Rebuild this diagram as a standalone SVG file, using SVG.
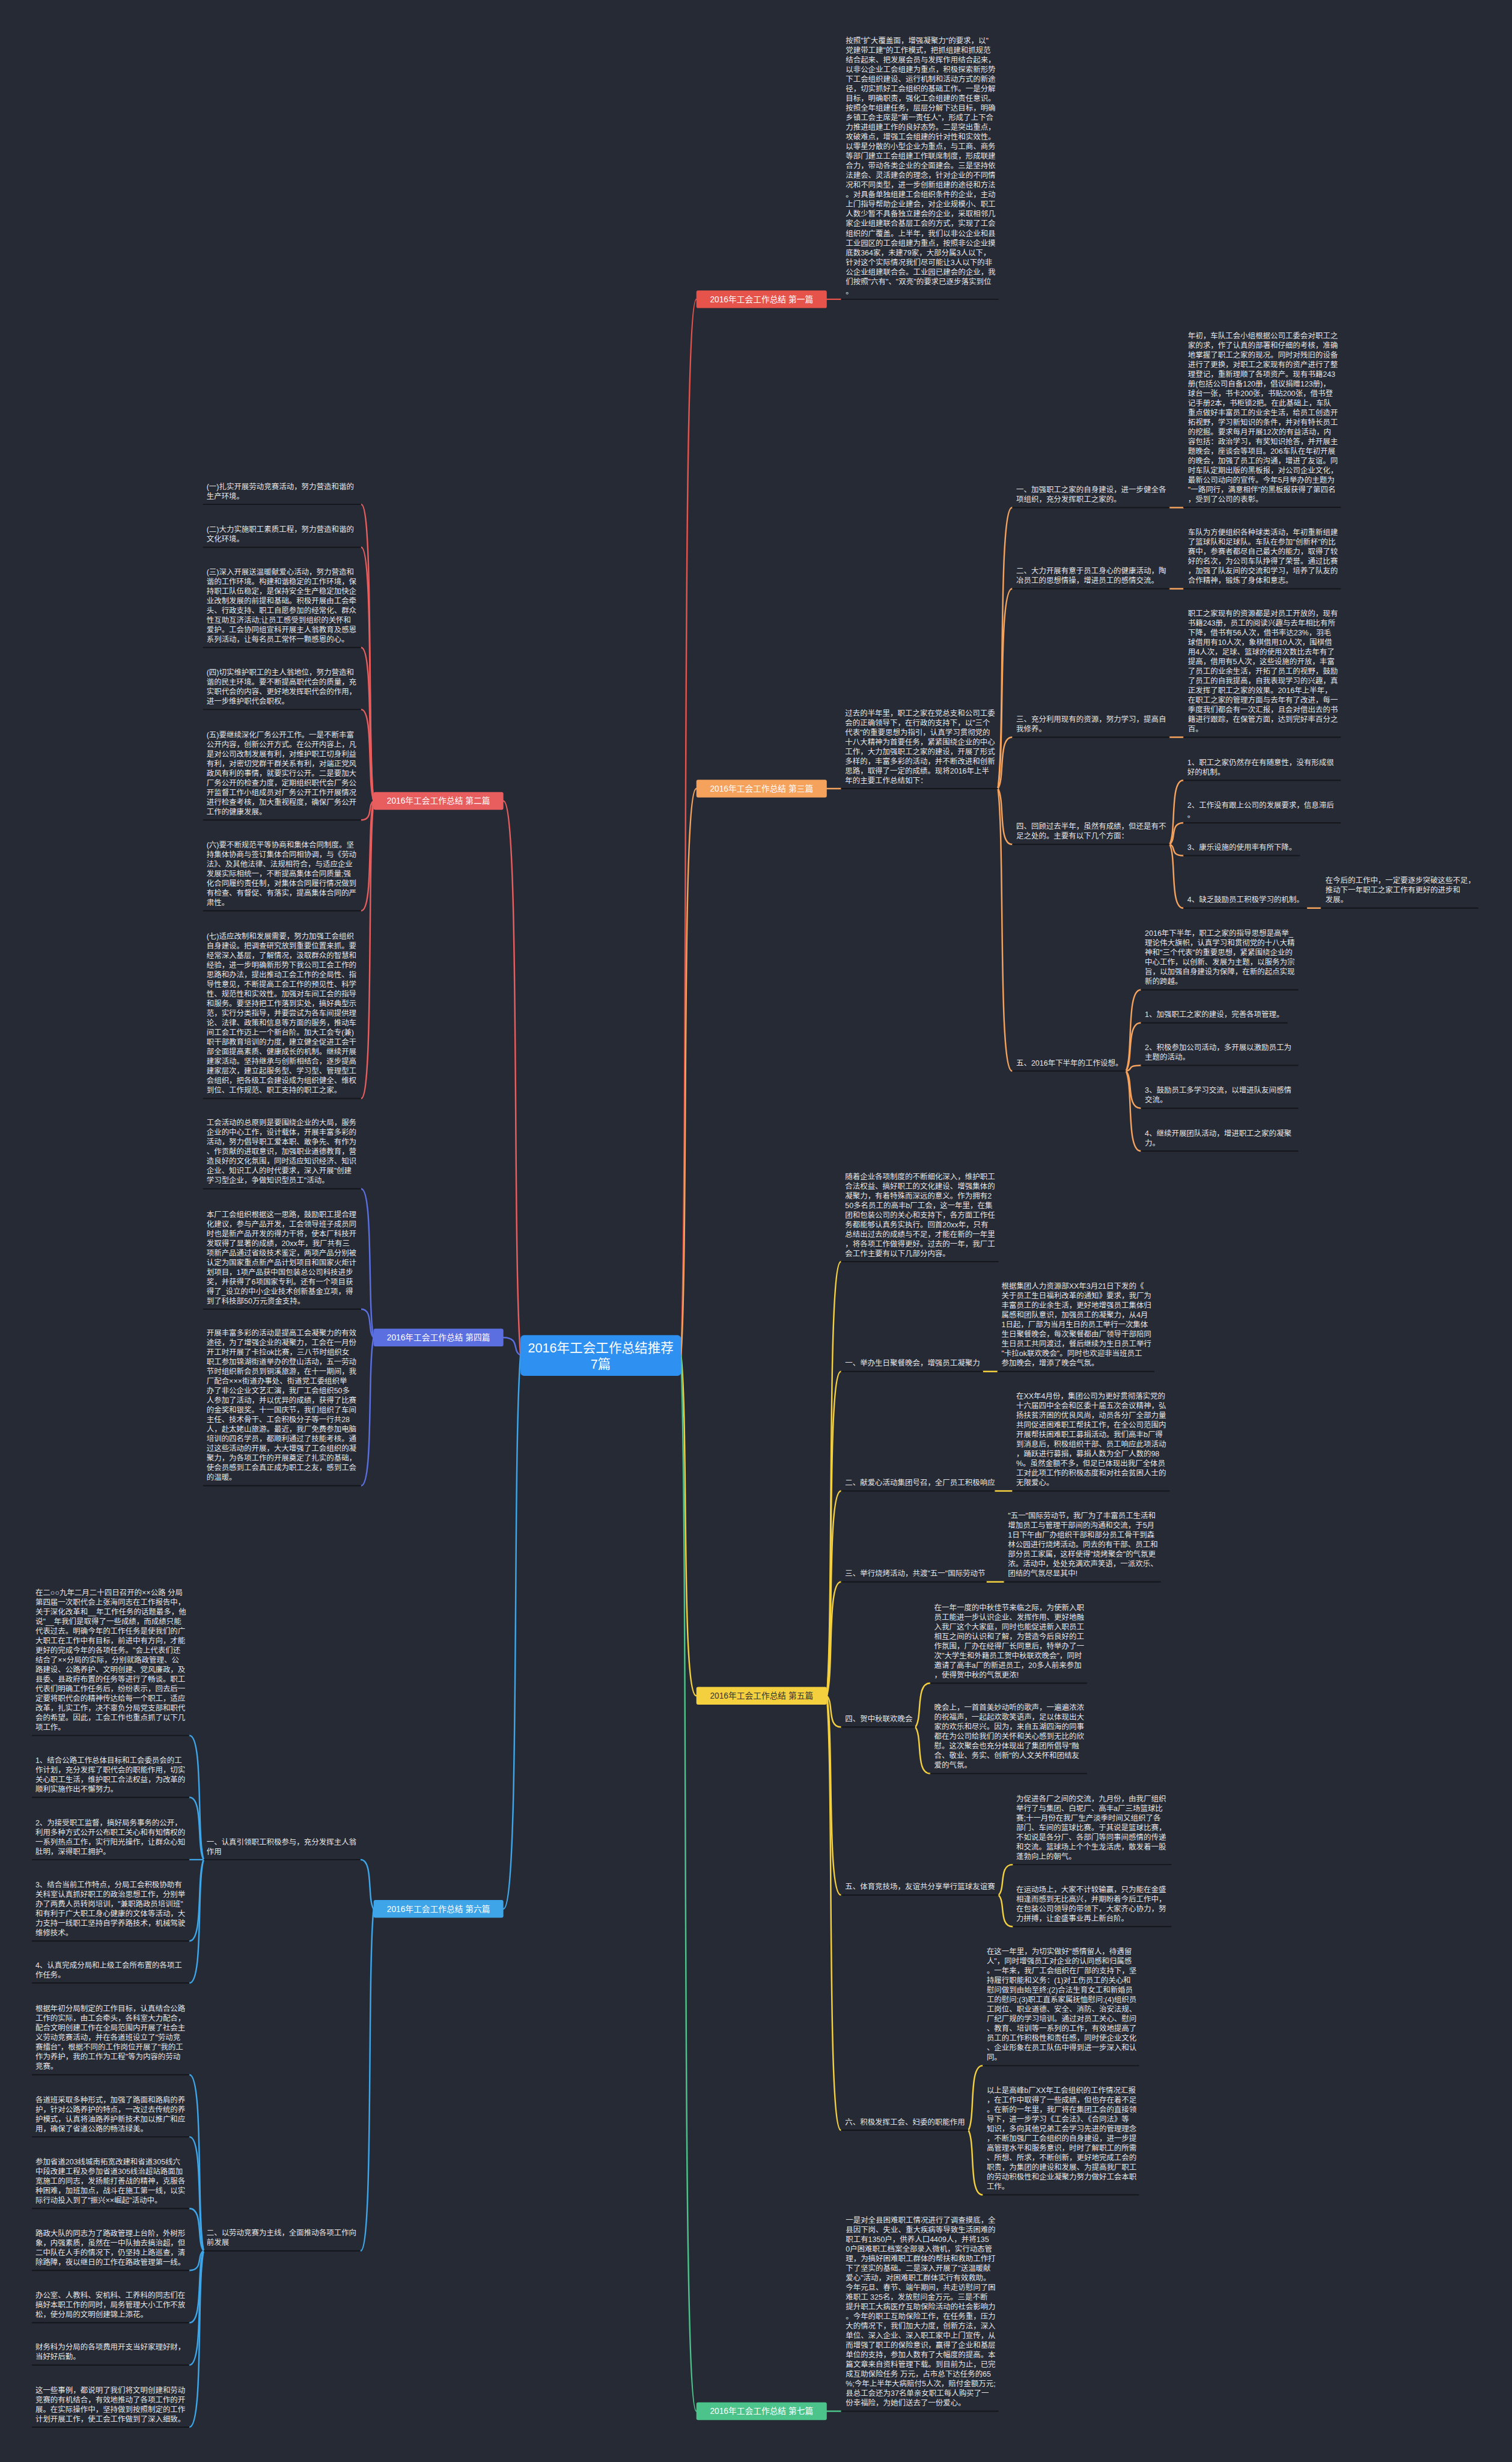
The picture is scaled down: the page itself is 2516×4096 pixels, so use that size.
<svg xmlns="http://www.w3.org/2000/svg" width="2516" height="4096" viewBox="0 0 2516 4096">
<style>
.t{font-family:"Liberation Sans","Noto Sans CJK SC",sans-serif;font-size:12.7px;fill:#e6e6e6}
.u{stroke:#14161b;stroke-width:2}
.c{fill:none;stroke-width:2.5;stroke-linecap:round}
.bt{font-family:"Liberation Sans","Noto Sans CJK SC",sans-serif;font-size:14px;text-anchor:middle}
.ct{font-family:"Liberation Sans","Noto Sans CJK SC",sans-serif;font-size:22px;text-anchor:middle;fill:#ffffff}
.red{stroke:#e5534b}.red2{stroke:#e85d5d}.org{stroke:#f5a25d}.yel{stroke:#f4d03f}.grn{stroke:#4cc38a}.blu{stroke:#5b6fe0}.cya{stroke:#3ea6e8}
</style>
<rect x="0" y="0" width="2516" height="4096" fill="#252a35"/>
<g transform="scale(0.982)">
<g id="connectors">
<path class="c red" d="M1154 2296 C1167 1938 1154 507 1180 507"/>
<path class="c org" d="M1154 2296 C1167 2104 1154 1336 1180 1336"/>
<path class="c yel" d="M1154 2296 C1167 2411 1154 2873 1180 2873"/>
<path class="c grn" d="M1154 2296 C1167 2654 1154 4085 1180 4085"/>
<path class="c red2" d="M882 2296 C867.5 2108 882 1357 853 1357"/>
<path class="c blu" d="M882 2296 C867.5 2290 882 2266 853 2266"/>
<path class="c cya" d="M882 2296 C867.5 2484 882 3234 853 3234"/>
<path class="c red" d="M1401 507 L1425 507"/>
<path class="c org" d="M1401 1336 L1425 1336"/>
<path class="c org" d="M1691 1336 C1703 1241 1691 860 1715 860"/>
<path class="c org" d="M1691 1336 C1703 1268 1691 997.5 1715 997.5"/>
<path class="c org" d="M1691 1336 C1703 1319 1691 1249 1715 1249"/>
<path class="c org" d="M1691 1336 C1703 1355 1691 1430.5 1715 1430.5"/>
<path class="c org" d="M1691 1336 C1703 1432 1691 1814.5 1715 1814.5"/>
<path class="c org" d="M1982 860 L2005 860"/>
<path class="c org" d="M1982 997.5 L2005 997.5"/>
<path class="c org" d="M1982 1249 L2005 1249"/>
<path class="c org" d="M1982 1430.5 C1993.5 1409 1982 1322 2005 1322"/>
<path class="c org" d="M1982 1430.5 C1993.5 1423 1982 1394 2005 1394"/>
<path class="c org" d="M1982 1430.5 C1993.5 1434 1982 1449.5 2005 1449.5"/>
<path class="c org" d="M1982 1430.5 C1993.5 1452 1982 1538.5 2005 1538.5"/>
<path class="c org" d="M2215 1538.5 L2238 1538.5"/>
<path class="c org" d="M1908 1814.5 C1920.5 1787 1908 1677 1933 1677"/>
<path class="c org" d="M1908 1814.5 C1920.5 1798 1908 1733 1933 1733"/>
<path class="c org" d="M1908 1814.5 C1920.5 1813 1908 1805 1933 1805"/>
<path class="c org" d="M1908 1814.5 C1920.5 1827 1908 1877.5 1933 1877.5"/>
<path class="c org" d="M1908 1814.5 C1920.5 1842 1908 1950 1933 1950"/>
<path class="c yel" d="M1401 2873 C1413 2726 1401 2137.5 1425 2137.5"/>
<path class="c yel" d="M1401 2873 C1413 2763 1401 2323.5 1425 2323.5"/>
<path class="c yel" d="M1401 2873 C1413 2804 1401 2526 1425 2526"/>
<path class="c yel" d="M1401 2873 C1413 2834 1401 2680 1425 2680"/>
<path class="c yel" d="M1401 2873 C1413 2884 1401 2926 1425 2926"/>
<path class="c yel" d="M1401 2873 C1413 2940 1401 3210.6 1425 3210.6"/>
<path class="c yel" d="M1401 2873 C1413 3020 1401 3609 1425 3609"/>
<path class="c yel" d="M1666 2323.5 L1690 2323.5"/>
<path class="c yel" d="M1686 2526 L1715 2526"/>
<path class="c yel" d="M1672 2680 L1701 2680"/>
<path class="c yel" d="M1551 2926 C1563.5 2911 1551 2851.6 1576 2851.6"/>
<path class="c yel" d="M1551 2926 C1563.5 2942 1551 3004.7 1576 3004.7"/>
<path class="c yel" d="M1692 3210.6 C1704 3200 1692 3159 1716 3159"/>
<path class="c yel" d="M1692 3210.6 C1704 3221 1692 3264 1716 3264"/>
<path class="c yel" d="M1641 3609 C1653 3587 1641 3499.6 1665 3499.6"/>
<path class="c yel" d="M1641 3609 C1653 3631 1641 3718.5 1665 3718.5"/>
<path class="c grn" d="M1401 4085 L1425 4085"/>
<path class="c red2" d="M633 1357 C622.5 1256.5 633 854.5 612 854.5"/>
<path class="c red2" d="M633 1357 C622.5 1271 633 927.2 612 927.2"/>
<path class="c red2" d="M633 1357 C622.5 1305 633 1097 612 1097"/>
<path class="c red2" d="M633 1357 C622.5 1326 633 1202 612 1202"/>
<path class="c red2" d="M633 1357 C622.5 1363.5 633 1389.3 612 1389.3"/>
<path class="c red2" d="M633 1357 C622.5 1394 633 1543 612 1543"/>
<path class="c red2" d="M633 1357 C622.5 1458 633 1861 612 1861"/>
<path class="c blu" d="M633 2266 C622.5 2215.6 633 2014 612 2014"/>
<path class="c blu" d="M633 2266 C622.5 2256.4 633 2218 612 2218"/>
<path class="c blu" d="M633 2266 C622.5 2316 633 2517 612 2517"/>
<path class="c cya" d="M633 3234 C622 3217 633 3150.6 611 3150.6"/>
<path class="c cya" d="M633 3234 C622 3350 633 3813.3 611 3813.3"/>
<path class="c cya" d="M345 3150.6 C333 3108.5 345 2940.3 321 2940.3"/>
<path class="c cya" d="M345 3150.6 C333 3129.5 345 3045 321 3045"/>
<path class="c cya" d="M345 3150.6 L321 3150.6"/>
<path class="c cya" d="M345 3150.6 C333 3178 345 3288.4 321 3288.4"/>
<path class="c cya" d="M345 3150.6 C333 3192 345 3359.5 321 3359.5"/>
<path class="c cya" d="M345 3813.3 C333 3753.6 345 3515 321 3515"/>
<path class="c cya" d="M345 3813.3 C333 3774.7 345 3620.3 321 3620.3"/>
<path class="c cya" d="M345 3813.3 C333 3799 345 3741.6 321 3741.6"/>
<path class="c cya" d="M345 3813.3 C333 3820 345 3846.4 321 3846.4"/>
<path class="c cya" d="M345 3813.3 C333 3837.7 345 3935.1 321 3935.1"/>
<path class="c cya" d="M345 3813.3 C333 3852 345 4006.8 321 4006.8"/>
<path class="c cya" d="M345 3813.3 C333 3873 345 4112 321 4112"/>
</g>

<g id="root">
<rect x="882" y="2262" width="272" height="69" rx="6" fill="#2e90f0"/>
<text class="ct" x="1018" y="2291">2016年工会工作总结推荐</text>
<text class="ct" x="1018" y="2319">7篇</text>
</g>

<g id="b1"><rect x="1180" y="492" width="221" height="30" rx="3" fill="#e5534b"/><text class="bt" x="1290.5" y="512" fill="#ffffff">2016年工会工作总结 第一篇</text></g>
<g id="b3"><rect x="1180" y="1321" width="221" height="30" rx="3" fill="#f5a25d"/><text class="bt" x="1290.5" y="1341" fill="#ffffff">2016年工会工作总结 第三篇</text></g>
<g id="b5"><rect x="1180" y="2858" width="221" height="30" rx="3" fill="#f4d03f"/><text class="bt" x="1290.5" y="2878" fill="#333333">2016年工会工作总结 第五篇</text></g>
<g id="b7"><rect x="1180" y="4070" width="221" height="30" rx="3" fill="#4cc38a"/><text class="bt" x="1290.5" y="4090" fill="#ffffff">2016年工会工作总结 第七篇</text></g>
<g id="b2"><rect x="633" y="1342" width="220" height="30" rx="3" fill="#e85d5d"/><text class="bt" x="743" y="1362" fill="#ffffff">2016年工会工作总结 第二篇</text></g>
<g id="b4"><rect x="633" y="2251" width="220" height="30" rx="3" fill="#5b6fe0"/><text class="bt" x="743" y="2271" fill="#ffffff">2016年工会工作总结 第四篇</text></g>
<g id="b6"><rect x="633" y="3219" width="220" height="30" rx="3" fill="#3ea6e8"/><text class="bt" x="743" y="3239" fill="#ffffff">2016年工会工作总结 第六篇</text></g>

<g id="p1-text">
<text class="t" x="1433" y="73.7"><tspan x="1433">按照"扩大覆盖面，增强凝聚力"的要求，以"</tspan><tspan x="1433" dy="16.3">党建带工建"的工作模式，把抓组建和抓规范</tspan><tspan x="1433" dy="16.3">结合起来、把发展会员与发挥作用结合起来，</tspan><tspan x="1433" dy="16.3">以非公企业工会组建为重点，积极探索新形势</tspan><tspan x="1433" dy="16.3">下工会组织建设、运行机制和活动方式的新途</tspan><tspan x="1433" dy="16.3">径，切实抓好工会组织的基础工作。一是分解</tspan><tspan x="1433" dy="16.3">目标，明确职责，强化工会组建的责任意识。</tspan><tspan x="1433" dy="16.3">按照全年组建任务，层层分解下达目标，明确</tspan><tspan x="1433" dy="16.3">乡镇工会主席是"第一责任人"，形成了上下合</tspan><tspan x="1433" dy="16.3">力推进组建工作的良好态势。二是突出重点，</tspan><tspan x="1433" dy="16.3">攻破难点，增强工会组建的针对性和实效性。</tspan><tspan x="1433" dy="16.3">以零星分散的小型企业为重点，与工商、商务</tspan><tspan x="1433" dy="16.3">等部门建立工会组建工作联席制度，形成联建</tspan><tspan x="1433" dy="16.3">合力，带动各类企业的全面建会。三是坚持依</tspan><tspan x="1433" dy="16.3">法建会、灵活建会的理念，针对企业的不同情</tspan><tspan x="1433" dy="16.3">况和不同类型，进一步创新组建的途径和方法</tspan><tspan x="1433" dy="16.3">。对具备单独组建工会组织条件的企业，主动</tspan><tspan x="1433" dy="16.3">上门指导帮助企业建会，对企业规模小、职工</tspan><tspan x="1433" dy="16.3">人数少暂不具备独立建会的企业，采取相邻几</tspan><tspan x="1433" dy="16.3">家企业组建联合基层工会的方式，实现了工会</tspan><tspan x="1433" dy="16.3">组织的广覆盖。上半年，我们以非公企业和县</tspan><tspan x="1433" dy="16.3">工业园区的工会组建为重点，按照非公企业摸</tspan><tspan x="1433" dy="16.3">底数364家，未建79家，大部分属3人以下，</tspan><tspan x="1433" dy="16.3">针对这个实际情况我们尽可能让3人以下的非</tspan><tspan x="1433" dy="16.3">公企业组建联合会。工业园已建会的企业，我</tspan><tspan x="1433" dy="16.3">们按照"六有"、"双亮"的要求已逐步落实到位</tspan><tspan x="1433" dy="16.3">。</tspan></text>
<line class="u" x1="1425" y1="507" x2="1692" y2="507"/>
</g>

<g id="p3-intro">
<text class="t" x="1432" y="1212.4"><tspan x="1432">过去的半年里，职工之家在党总支和公司工委</tspan><tspan x="1432" dy="16.3">会的正确领导下，在行政的支持下，以"三个</tspan><tspan x="1432" dy="16.3">代表"的重要思想为指引，认真学习贯彻党的</tspan><tspan x="1432" dy="16.3">十八大精神为首要任务，紧紧围绕企业的中心</tspan><tspan x="1432" dy="16.3">工作，大力加强职工之家的建设，开展了形式</tspan><tspan x="1432" dy="16.3">多样的，丰富多彩的活动，并不断改进和创新</tspan><tspan x="1432" dy="16.3">思路，取得了一定的成绩。现将2016年上半</tspan><tspan x="1432" dy="16.3">年的主要工作总结如下：</tspan></text>
<line class="u" x1="1425" y1="1336" x2="1691" y2="1336"/>
</g>
<g id="p3-l1"><text class="t" x="1722" y="834.2"><tspan x="1722">一、加强职工之家的自身建设，进一步健全各</tspan><tspan x="1722" dy="16.3">项组织，充分发挥职工之家的。</tspan></text><line class="u" x1="1715" y1="860" x2="1982" y2="860"/></g>
<g id="p3-l2"><text class="t" x="1722" y="971.7"><tspan x="1722">二、大力开展有意于员工身心的健康活动，陶</tspan><tspan x="1722" dy="16.3">冶员工的思想情操，增进员工的感情交流。</tspan></text><line class="u" x1="1715" y1="997.5" x2="1982" y2="997.5"/></g>
<g id="p3-l3"><text class="t" x="1722" y="1223.2"><tspan x="1722">三、充分利用现有的资源，努力学习，提高自</tspan><tspan x="1722" dy="16.3">我修养。</tspan></text><line class="u" x1="1715" y1="1249" x2="1982" y2="1249"/></g>
<g id="p3-l4"><text class="t" x="1722" y="1404.7"><tspan x="1722">四、回顾过去半年，虽然有成绩，但还是有不</tspan><tspan x="1722" dy="16.3">足之处的。主要有以下几个方面：</tspan></text><line class="u" x1="1715" y1="1430.5" x2="1982" y2="1430.5"/></g>
<g id="p3-l5"><text class="t" x="1722" y="1805">五、2016年下半年的工作设想。</text><line class="u" x1="1715" y1="1814.5" x2="1908" y2="1814.5"/></g>

<g id="p3-d1"><text class="t" x="2013" y="572.9"><tspan x="2013">年初，车队工会小组根据公司工委会对职工之</tspan><tspan x="2013" dy="16.3">家的求，作了认真的部署和仔细的考核，准确</tspan><tspan x="2013" dy="16.3">地掌握了职工之家的现况。同时对残旧的设备</tspan><tspan x="2013" dy="16.3">进行了更换，对职工之家现有的资产进行了整</tspan><tspan x="2013" dy="16.3">理登记，重新理顺了各项资产。现有书籍243</tspan><tspan x="2013" dy="16.3">册(包括公司自备120册，倡议捐赠123册)，</tspan><tspan x="2013" dy="16.3">球台一张，书卡200张，书贴200张，借书登</tspan><tspan x="2013" dy="16.3">记手册2本，书柜锁2把。在此基础上，车队</tspan><tspan x="2013" dy="16.3">重点做好丰富员工的业余生活，给员工创造开</tspan><tspan x="2013" dy="16.3">拓视野，学习新知识的条件，并对有特长员工</tspan><tspan x="2013" dy="16.3">的挖掘。要求每月开展12次的有益活动，内</tspan><tspan x="2013" dy="16.3">容包括：政治学习，有奖知识抢答，并开展主</tspan><tspan x="2013" dy="16.3">题晚会，座谈会等项目。206车队在年初开展</tspan><tspan x="2013" dy="16.3">的晚会，加强了员工的沟通，增进了友谊。同</tspan><tspan x="2013" dy="16.3">时车队定期出版的黑板报，对公司企业文化，</tspan><tspan x="2013" dy="16.3">最新公司动向的宣传。今年5月举办的主题为</tspan><tspan x="2013" dy="16.3">"一路同行，满意相伴"的黑板报获得了第四名</tspan><tspan x="2013" dy="16.3">，受到了公司的表彰。</tspan></text><line class="u" x1="2005" y1="859.5" x2="2272" y2="859.5"/></g>
<g id="p3-d2"><text class="t" x="2013" y="906.5"><tspan x="2013">车队为方便组织各种球类活动，年初重新组建</tspan><tspan x="2013" dy="16.3">了篮球队和足球队。车队在参加"创新杯"的比</tspan><tspan x="2013" dy="16.3">赛中，参赛者都尽自己最大的能力，取得了较</tspan><tspan x="2013" dy="16.3">好的名次，为公司车队挣得了荣誉。通过比赛</tspan><tspan x="2013" dy="16.3">，加强了队友间的交流和学习，培养了队友的</tspan><tspan x="2013" dy="16.3">合作精神，锻炼了身体和意志。</tspan></text><line class="u" x1="2005" y1="997.5" x2="2272" y2="997.5"/></g>
<g id="p3-d3"><text class="t" x="2013" y="1043.9"><tspan x="2013">职工之家现有的资源都是对员工开放的，现有</tspan><tspan x="2013" dy="16.3">书籍243册，员工的阅读兴趣与去年相比有所</tspan><tspan x="2013" dy="16.3">下降，借书有56人次，借书率达23%，羽毛</tspan><tspan x="2013" dy="16.3">球借用有10人次，象棋借用10人次，围棋借</tspan><tspan x="2013" dy="16.3">用4人次，足球、篮球的使用次数比去年有了</tspan><tspan x="2013" dy="16.3">提高，借用有5人次，这些设施的开放，丰富</tspan><tspan x="2013" dy="16.3">了员工的业余生活，开拓了员工的视野，鼓励</tspan><tspan x="2013" dy="16.3">了员工的自我提高，自我表现学习的兴趣，真</tspan><tspan x="2013" dy="16.3">正发挥了职工之家的效果。2016年上半年，</tspan><tspan x="2013" dy="16.3">在职工之家的管理方面与去年有了改进，每一</tspan><tspan x="2013" dy="16.3">季度我们都会有一次汇报，且会对借出去的书</tspan><tspan x="2013" dy="16.3">籍进行跟踪，在保管方面，达到完好率百分之</tspan><tspan x="2013" dy="16.3">百。</tspan></text><line class="u" x1="2005" y1="1249" x2="2272" y2="1249"/></g>
<g id="p3-d41"><text class="t" x="2012" y="1296.2"><tspan x="2012">1、职工之家仍然存在有随意性，没有形成很</tspan><tspan x="2012" dy="16.3">好的机制。</tspan></text><line class="u" x1="2005" y1="1322" x2="2272" y2="1322"/></g>
<g id="p3-d42"><text class="t" x="2012" y="1368.2"><tspan x="2012">2、工作没有跟上公司的发展要求，信息滞后</tspan><tspan x="2012" dy="16.3">。</tspan></text><line class="u" x1="2005" y1="1394" x2="2272" y2="1394"/></g>
<g id="p3-d43"><text class="t" x="2012" y="1440">3、康乐设施的使用率有所下降。</text><line class="u" x1="2005" y1="1449.5" x2="2203" y2="1449.5"/></g>
<g id="p3-d44"><text class="t" x="2012" y="1529">4、缺乏鼓励员工积极学习的机制。</text><line class="u" x1="2005" y1="1538.5" x2="2215" y2="1538.5"/></g>
<g id="p3-d44a"><text class="t" x="2246" y="1496.4"><tspan x="2246">在今后的工作中，一定要逐步突破这些不足，</tspan><tspan x="2246" dy="16.3">推动下一年职工之家工作有更好的进步和</tspan><tspan x="2246" dy="16.3">发展。</tspan></text><line class="u" x1="2238" y1="1538.5" x2="2505" y2="1538.5"/></g>
<g id="p3-d5i"><text class="t" x="1940" y="1586"><tspan x="1940">2016年下半年，职工之家的指导思想是高举_</tspan><tspan x="1940" dy="16.3">理论伟大旗帜，认真学习和贯彻党的十八大精</tspan><tspan x="1940" dy="16.3">神和"三个代表"的重要思想，紧紧围绕企业的</tspan><tspan x="1940" dy="16.3">中心工作，以创新、发展为主题，以服务为宗</tspan><tspan x="1940" dy="16.3">旨，以加强自身建设为保障，在新的起点实现</tspan><tspan x="1940" dy="16.3">新的跨越。</tspan></text><line class="u" x1="1933" y1="1677" x2="2200" y2="1677"/></g>
<g id="p3-d51"><text class="t" x="1940" y="1723.5">1、加强职工之家的建设，完善各项管理。</text><line class="u" x1="1933" y1="1733" x2="2182" y2="1733"/></g>
<g id="p3-d52"><text class="t" x="1940" y="1779.2"><tspan x="1940">2、积极参加公司活动，多开展以激励员工为</tspan><tspan x="1940" dy="16.3">主题的活动。</tspan></text><line class="u" x1="1933" y1="1805" x2="2200" y2="1805"/></g>
<g id="p3-d53"><text class="t" x="1940" y="1851.7"><tspan x="1940">3、鼓励员工多学习交流，以增进队友间感情</tspan><tspan x="1940" dy="16.3">交流。</tspan></text><line class="u" x1="1933" y1="1877.5" x2="2200" y2="1877.5"/></g>
<g id="p3-d54"><text class="t" x="1940" y="1924.2"><tspan x="1940">4、继续开展团队活动，增进职工之家的凝聚</tspan><tspan x="1940" dy="16.3">力。</tspan></text><line class="u" x1="1933" y1="1950" x2="2200" y2="1950"/></g>

<g id="p5-intro"><text class="t" x="1432" y="1997.6"><tspan x="1432">随着企业各项制度的不断细化深入，维护职工</tspan><tspan x="1432" dy="16.3">合法权益、搞好职工的文化建设、增强集体的</tspan><tspan x="1432" dy="16.3">凝聚力，有着特殊而深远的意义。作为拥有2</tspan><tspan x="1432" dy="16.3">50多名员工的高丰b厂工会，这一年里，在集</tspan><tspan x="1432" dy="16.3">团和包装公司的关心和支持下，各方面工作任</tspan><tspan x="1432" dy="16.3">务都能够认真务实执行。回首20xx年，只有</tspan><tspan x="1432" dy="16.3">总结出过去的成绩与不足，才能在新的一年里</tspan><tspan x="1432" dy="16.3">，将各项工作做得更好。过去的一年，我厂工</tspan><tspan x="1432" dy="16.3">会工作主要有以下几部分内容。</tspan></text><line class="u" x1="1425" y1="2137.5" x2="1692" y2="2137.5"/></g>
<g id="p5-l1"><text class="t" x="1432" y="2314">一、举办生日聚餐晚会，增强员工凝聚力</text><line class="u" x1="1425" y1="2323.5" x2="1666" y2="2323.5"/></g>
<g id="p5-d1"><text class="t" x="1697" y="2183.6"><tspan x="1697">根据集团人力资源部XX年3月21日下发的《</tspan><tspan x="1697" dy="16.3">关于员工生日福利改革的通知》要求，我厂为</tspan><tspan x="1697" dy="16.3">丰富员工的业余生活，更好地增强员工集体归</tspan><tspan x="1697" dy="16.3">属感和团队意识，加强员工的凝聚力，从4月</tspan><tspan x="1697" dy="16.3">1日起，厂部为当月生日的员工举行一次集体</tspan><tspan x="1697" dy="16.3">生日聚餐晚会，每次聚餐都由厂领导干部陪同</tspan><tspan x="1697" dy="16.3">生日员工共同渡过，餐后继续为生日员工举行</tspan><tspan x="1697" dy="16.3">"卡拉ok联欢晚会"。同时也欢迎非当班员工</tspan><tspan x="1697" dy="16.3">参加晚会，增添了晚会气氛。</tspan></text><line class="u" x1="1690" y1="2323.5" x2="1956" y2="2323.5"/></g>
<g id="p5-l2"><text class="t" x="1432" y="2516.5">二、献爱心活动集团号召，全厂员工积极响应</text><line class="u" x1="1425" y1="2526" x2="1686" y2="2526"/></g>
<g id="p5-d2"><text class="t" x="1722" y="2369.8"><tspan x="1722">在XX年4月份，集团公司为更好贯彻落实党的</tspan><tspan x="1722" dy="16.3">十六届四中全会和区委十届五次会议精神，弘</tspan><tspan x="1722" dy="16.3">扬扶贫济困的优良风尚，动员各分厂全部力量</tspan><tspan x="1722" dy="16.3">共同促进困难职工帮扶工作，在全公司范围内</tspan><tspan x="1722" dy="16.3">开展帮扶困难职工募捐活动。我们高丰b厂得</tspan><tspan x="1722" dy="16.3">到消息后，积极组织干部、员工响应此项活动</tspan><tspan x="1722" dy="16.3">，踊跃进行募捐，募捐人数为全厂人数的98</tspan><tspan x="1722" dy="16.3">%。虽然金额不多，但足已体现出我厂全体员</tspan><tspan x="1722" dy="16.3">工对此项工作的积极态度和对社会贫困人士的</tspan><tspan x="1722" dy="16.3">无限爱心。</tspan></text><line class="u" x1="1715" y1="2526" x2="1982" y2="2526"/></g>
<g id="p5-l3"><text class="t" x="1432" y="2670.5">三、举行烧烤活动，共渡"五一"国际劳动节</text><line class="u" x1="1425" y1="2680" x2="1672" y2="2680"/></g>
<g id="p5-d3"><text class="t" x="1708" y="2572.7"><tspan x="1708">"五一"国际劳动节，我厂为了丰富员工生活和</tspan><tspan x="1708" dy="16.3">增加员工与管理干部间的沟通和交流，于5月</tspan><tspan x="1708" dy="16.3">1日下午由厂办组织干部和部分员工骨干到森</tspan><tspan x="1708" dy="16.3">林公园进行烧烤活动。同去的有干部、员工和</tspan><tspan x="1708" dy="16.3">部分员工家属，这样使得"烧烤聚会"的气氛更</tspan><tspan x="1708" dy="16.3">浓。活动中，处处充满欢声笑语，一派欢乐、</tspan><tspan x="1708" dy="16.3">团结的气氛尽显其中!</tspan></text><line class="u" x1="1701" y1="2680" x2="1967" y2="2680"/></g>
<g id="p5-l4"><text class="t" x="1432" y="2916.5">四、贺中秋联欢晚会</text><line class="u" x1="1425" y1="2926" x2="1551" y2="2926"/></g>
<g id="p5-d4a"><text class="t" x="1583" y="2728"><tspan x="1583">在一年一度的中秋佳节来临之际，为使新入职</tspan><tspan x="1583" dy="16.3">员工能进一步认识企业、发挥作用、更好地融</tspan><tspan x="1583" dy="16.3">入我厂这个大家庭，同时也能促进新入职员工</tspan><tspan x="1583" dy="16.3">相互之间的认识和了解，为营造今后良好的工</tspan><tspan x="1583" dy="16.3">作氛围，厂办在经得厂长同意后，特举办了一</tspan><tspan x="1583" dy="16.3">次"大学生和外籍员工贺中秋联欢晚会"，同时</tspan><tspan x="1583" dy="16.3">邀请了高丰a厂的新进员工，20多人前来参加</tspan><tspan x="1583" dy="16.3">，使得贺中秋的气氛更浓!</tspan></text><line class="u" x1="1576" y1="2851.6" x2="1842" y2="2851.6"/></g>
<g id="p5-d4b"><text class="t" x="1583" y="2897.4"><tspan x="1583">晚会上，一首首美妙动听的歌声，一遍遍浓浓</tspan><tspan x="1583" dy="16.3">的祝福声，一起起欢歌笑语声，足以体现出大</tspan><tspan x="1583" dy="16.3">家的欢乐和尽兴。因为，来自五湖四海的同事</tspan><tspan x="1583" dy="16.3">都在为公司给我们的关怀和关心感到无比的欣</tspan><tspan x="1583" dy="16.3">慰。这次聚会也充分体现出了集团所倡导"融</tspan><tspan x="1583" dy="16.3">合、敬业、务实、创新"的人文关怀和团结友</tspan><tspan x="1583" dy="16.3">爱的气氛。</tspan></text><line class="u" x1="1576" y1="3004.7" x2="1842" y2="3004.7"/></g>
<g id="p5-l5"><text class="t" x="1432" y="3201.1">五、体育竞技场，友谊共分享举行篮球友谊赛</text><line class="u" x1="1425" y1="3210.6" x2="1692" y2="3210.6"/></g>
<g id="p5-d5a"><text class="t" x="1722" y="3051.7"><tspan x="1722">为促进各厂之间的交流，九月份，由我厂组织</tspan><tspan x="1722" dy="16.3">举行了与集团、白坭厂、高丰a厂三场篮球比</tspan><tspan x="1722" dy="16.3">赛;十一月份在我厂生产淡季时间又组织了各</tspan><tspan x="1722" dy="16.3">部门、车间的篮球比赛。于其说是篮球比赛，</tspan><tspan x="1722" dy="16.3">不如说是各分厂、各部门等同事间感情的传递</tspan><tspan x="1722" dy="16.3">和交流。篮球场上个个生龙活虎，散发着一股</tspan><tspan x="1722" dy="16.3">蓬勃向上的朝气。</tspan></text><line class="u" x1="1716" y1="3159" x2="1985" y2="3159"/></g>
<g id="p5-d5b"><text class="t" x="1722" y="3205.6"><tspan x="1722">在运动场上，大家不计较输赢，只为能在金盛</tspan><tspan x="1722" dy="16.3">相逢而感到无比高兴，并期盼着今后工作中，</tspan><tspan x="1722" dy="16.3">在包装公司领导的带领下，大家齐心协力，努</tspan><tspan x="1722" dy="16.3">力拼搏，让金盛事业再上新台阶。</tspan></text><line class="u" x1="1716" y1="3264" x2="1985" y2="3264"/></g>
<g id="p5-l6"><text class="t" x="1432" y="3599.5">六、积极发挥工会、妇委的职能作用</text><line class="u" x1="1425" y1="3609" x2="1641" y2="3609"/></g>
<g id="p5-d6a"><text class="t" x="1672" y="3310.8"><tspan x="1672">在这一年里，为切实做好"感情留人，待遇留</tspan><tspan x="1672" dy="16.3">人"，同时增强员工对企业的认同感和归属感</tspan><tspan x="1672" dy="16.3">。一年来，我厂工会组织在厂部的支持下，坚</tspan><tspan x="1672" dy="16.3">持履行职能和义务：(1)对工伤员工的关心和</tspan><tspan x="1672" dy="16.3">慰问做到由始至终;(2)合法生育女工和新婚员</tspan><tspan x="1672" dy="16.3">工的慰问;(3)职工直系家属抚恤慰问;(4)组织员</tspan><tspan x="1672" dy="16.3">工岗位、职业道德、安全、消防、治安法规、</tspan><tspan x="1672" dy="16.3">厂纪厂规的学习培训。通过对员工关心、慰问</tspan><tspan x="1672" dy="16.3">、教育、培训等一系列的工作，有效地提高了</tspan><tspan x="1672" dy="16.3">员工的工作积极性和责任感，同时使企业文化</tspan><tspan x="1672" dy="16.3">、企业形象在员工队伍中得到进一步深入和认</tspan><tspan x="1672" dy="16.3">同。</tspan></text><line class="u" x1="1665" y1="3499.6" x2="1930" y2="3499.6"/></g>
<g id="p5-d6b"><text class="t" x="1672" y="3546"><tspan x="1672">以上是高峰b厂XX年工会组织的工作情况汇报</tspan><tspan x="1672" dy="16.3">，在工作中取得了一些成绩，但也存在着不足</tspan><tspan x="1672" dy="16.3">。在新的一年里，我厂将在集团工会的直接领</tspan><tspan x="1672" dy="16.3">导下，进一步学习《工会法》、《合同法》等</tspan><tspan x="1672" dy="16.3">知识，多向其他兄弟工会学习先进的管理理念</tspan><tspan x="1672" dy="16.3">，不断加强厂工会组织的自身建设，进一步提</tspan><tspan x="1672" dy="16.3">高管理水平和服务意识，时时了解职工的所需</tspan><tspan x="1672" dy="16.3">、所想、所求，不断创新，更好地完成工会的</tspan><tspan x="1672" dy="16.3">职责，为集团的建设和发展、为提高我厂职工</tspan><tspan x="1672" dy="16.3">的劳动积极性和企业凝聚力努力做好工会本职</tspan><tspan x="1672" dy="16.3">工作。</tspan></text><line class="u" x1="1665" y1="3718.5" x2="1930" y2="3718.5"/></g>

<g id="p7-text"><text class="t" x="1433" y="3765.8"><tspan x="1433">一是对全县困难职工情况进行了调查摸底，全</tspan><tspan x="1433" dy="16.3">县因下岗、失业、重大疾病等导致生活困难的</tspan><tspan x="1433" dy="16.3">职工有1350户，供养人口4409人，并将135</tspan><tspan x="1433" dy="16.3">0户困难职工档案全部录入微机，实行动态管</tspan><tspan x="1433" dy="16.3">理，为搞好困难职工群体的帮扶和救助工作打</tspan><tspan x="1433" dy="16.3">下了坚实的基础。二是深入开展了"送温暖献</tspan><tspan x="1433" dy="16.3">爱心"活动，对困难职工群体实行有效救助。</tspan><tspan x="1433" dy="16.3">今年元旦、春节、端午期间，共走访慰问了困</tspan><tspan x="1433" dy="16.3">难职工 325名，发放慰问金万元。三是不断</tspan><tspan x="1433" dy="16.3">提升职工大病医疗互助保险活动的社会影响力</tspan><tspan x="1433" dy="16.3">。今年的职工互助保险工作，在任务重，压力</tspan><tspan x="1433" dy="16.3">大的情况下，我们加大力度，创新方法，深入</tspan><tspan x="1433" dy="16.3">单位、深入企业、深入职工家中上门宣传，从</tspan><tspan x="1433" dy="16.3">而增强了职工的保险意识，赢得了企业和基层</tspan><tspan x="1433" dy="16.3">单位的支持，参加人数有了大幅度的提高。本</tspan><tspan x="1433" dy="16.3">篇文章来自资料管理下载。到目前为止，已完</tspan><tspan x="1433" dy="16.3">成互助保险任务 万元，占市总下达任务的65</tspan><tspan x="1433" dy="16.3">%;今年上半年大病赔付5人次，赔付金额万元;</tspan><tspan x="1433" dy="16.3">县总工会还为37名单亲女职工每人购买了一</tspan><tspan x="1433" dy="16.3">份幸福险，为她们送去了一份爱心。</tspan></text><line class="u" x1="1425" y1="4085" x2="1692" y2="4085"/></g>

<g id="p2-c1"><text class="t" x="350" y="828.7"><tspan x="350">(一)扎实开展劳动竞赛活动，努力营造和谐的</tspan><tspan x="350" dy="16.3">生产环境。</tspan></text><line class="u" x1="344" y1="854.5" x2="612" y2="854.5"/></g>
<g id="p2-c2"><text class="t" x="350" y="901.4"><tspan x="350">(二)大力实施职工素质工程，努力营造和谐的</tspan><tspan x="350" dy="16.3">文化环境。</tspan></text><line class="u" x1="344" y1="927.2" x2="612" y2="927.2"/></g>
<g id="p2-c3"><text class="t" x="350" y="973.4"><tspan x="350">(三)深入开展送温暖献爱心活动，努力营造和</tspan><tspan x="350" dy="16.3">谐的工作环境。构建和谐稳定的工作环境，保</tspan><tspan x="350" dy="16.3">持职工队伍稳定，是保持安全生产稳定加快企</tspan><tspan x="350" dy="16.3">业改制发展的前提和基础。积极开展由工会牵</tspan><tspan x="350" dy="16.3">头、行政支持、职工自愿参加的经常化、群众</tspan><tspan x="350" dy="16.3">性互助互济活动;让员工感受到组织的关怀和</tspan><tspan x="350" dy="16.3">爱护。工会协同组宣科开展主人翁教育及感恩</tspan><tspan x="350" dy="16.3">系列活动，让每名员工常怀一颗感恩的心。</tspan></text><line class="u" x1="344" y1="1097" x2="612" y2="1097"/></g>
<g id="p2-c4"><text class="t" x="350" y="1143.6"><tspan x="350">(四)切实维护职工的主人翁地位，努力营造和</tspan><tspan x="350" dy="16.3">谐的民主环境。要不断提高职代会的质量，充</tspan><tspan x="350" dy="16.3">实职代会的内容、更好地发挥职代会的作用，</tspan><tspan x="350" dy="16.3">进一步维护职代会职权。</tspan></text><line class="u" x1="344" y1="1202" x2="612" y2="1202"/></g>
<g id="p2-c5"><text class="t" x="350" y="1249.4"><tspan x="350">(五)要继续深化厂务公开工作。一是不断丰富</tspan><tspan x="350" dy="16.3">公开内容，创新公开方式。在公开内容上，凡</tspan><tspan x="350" dy="16.3">是对公司改制发展有利，对维护职工切身利益</tspan><tspan x="350" dy="16.3">有利，对密切党群干群关系有利，对端正党风</tspan><tspan x="350" dy="16.3">政风有利的事情，就要实行公开。二是要加大</tspan><tspan x="350" dy="16.3">厂务公开的检查力度，定期组织职代会厂务公</tspan><tspan x="350" dy="16.3">开监督工作小组成员对厂务公开工作开展情况</tspan><tspan x="350" dy="16.3">进行检查考核，加大重视程度，确保厂务公开</tspan><tspan x="350" dy="16.3">工作的健康发展。</tspan></text><line class="u" x1="344" y1="1389.3" x2="612" y2="1389.3"/></g>
<g id="p2-c6"><text class="t" x="350" y="1435.7"><tspan x="350">(六)要不断规范平等协商和集体合同制度。坚</tspan><tspan x="350" dy="16.3">持集体协商与签订集体合同相协调，与《劳动</tspan><tspan x="350" dy="16.3">法》、及其他法律、法规相符合，与适应企业</tspan><tspan x="350" dy="16.3">发展实际相统一，不断提高集体合同质量;强</tspan><tspan x="350" dy="16.3">化合同履约责任制，对集体合同履行情况做到</tspan><tspan x="350" dy="16.3">有检查、有督促、有落实，提高集体合同的严</tspan><tspan x="350" dy="16.3">肃性。</tspan></text><line class="u" x1="344" y1="1543" x2="612" y2="1543"/></g>
<g id="p2-c7"><text class="t" x="350" y="1590.7"><tspan x="350">(七)适应改制和发展需要，努力加强工会组织</tspan><tspan x="350" dy="16.3">自身建设。把调查研究放到重要位置来抓。要</tspan><tspan x="350" dy="16.3">经常深入基层，了解情况，汲取群众的智慧和</tspan><tspan x="350" dy="16.3">经验，进一步明确新形势下我公司工会工作的</tspan><tspan x="350" dy="16.3">思路和办法，提出推动工会工作的全局性、指</tspan><tspan x="350" dy="16.3">导性意见，不断提高工会工作的预见性、科学</tspan><tspan x="350" dy="16.3">性、规范性和实效性。加强对车间工会的指导</tspan><tspan x="350" dy="16.3">和服务。要坚持把工作落到实处，搞好典型示</tspan><tspan x="350" dy="16.3">范，实行分类指导，并要尝试为各车间提供理</tspan><tspan x="350" dy="16.3">论、法律、政策和信息等方面的服务，推动车</tspan><tspan x="350" dy="16.3">间工会工作迈上一个新台阶。加大工会专(兼)</tspan><tspan x="350" dy="16.3">职干部教育培训的力度，建立健全促进工会干</tspan><tspan x="350" dy="16.3">部全面提高素质、健康成长的机制。继续开展</tspan><tspan x="350" dy="16.3">建家活动。坚持继承与创新相结合，逐步提高</tspan><tspan x="350" dy="16.3">建家层次，建立起服务型、学习型、管理型工</tspan><tspan x="350" dy="16.3">会组织，把各级工会建设成为组织健全、维权</tspan><tspan x="350" dy="16.3">到位、工作规范、职工支持的职工之家。</tspan></text><line class="u" x1="344" y1="1861" x2="612" y2="1861"/></g>

<g id="p4-c1"><text class="t" x="350" y="1906.7"><tspan x="350">工会活动的总原则是要围绕企业的大局，服务</tspan><tspan x="350" dy="16.3">企业的中心工作，设计载体，开展丰富多彩的</tspan><tspan x="350" dy="16.3">活动，努力倡导职工爱本职、敢争先、有作为</tspan><tspan x="350" dy="16.3">、作贡献的进取意识，加强职业道德教育，营</tspan><tspan x="350" dy="16.3">造良好的文化氛围，同时适应知识经济、知识</tspan><tspan x="350" dy="16.3">企业、知识工人的时代要求，深入开展"创建</tspan><tspan x="350" dy="16.3">学习型企业，争做知识型员工"活动。</tspan></text><line class="u" x1="344" y1="2014" x2="612" y2="2014"/></g>
<g id="p4-c2"><text class="t" x="350" y="2061.8"><tspan x="350">本厂工会组织根据这一思路，鼓励职工提合理</tspan><tspan x="350" dy="16.3">化建议，参与产品开发，工会领导班子成员同</tspan><tspan x="350" dy="16.3">时也是新产品开发的得力干将，使本厂科技开</tspan><tspan x="350" dy="16.3">发取得了显著的成绩，20xx年，我厂共有三</tspan><tspan x="350" dy="16.3">项新产品通过省级技术鉴定，两项产品分别被</tspan><tspan x="350" dy="16.3">认定为国家重点新产品计划项目和国家火炬计</tspan><tspan x="350" dy="16.3">划项目，1项产品获中国包装总公司科技进步</tspan><tspan x="350" dy="16.3">奖，并获得了6项国家专利。还有一个项目获</tspan><tspan x="350" dy="16.3">得了_设立的中小企业技术创新基金立项，得</tspan><tspan x="350" dy="16.3">到了科技部50万元资金支持。</tspan></text><line class="u" x1="344" y1="2218" x2="612" y2="2218"/></g>
<g id="p4-c3"><text class="t" x="350" y="2263"><tspan x="350">开展丰富多彩的活动是提高工会凝聚力的有效</tspan><tspan x="350" dy="16.3">途径，为了增强企业的凝聚力，工会在一月份</tspan><tspan x="350" dy="16.3">开工时开展了卡拉ok比赛，三八节时组织女</tspan><tspan x="350" dy="16.3">职工参加锦湖街道举办的登山活动，五一劳动</tspan><tspan x="350" dy="16.3">节时组织新会员到铜溪旅游，在十一期间，我</tspan><tspan x="350" dy="16.3">厂配合×××街道办事处、街道党工委组织举</tspan><tspan x="350" dy="16.3">办了非公企业文艺汇演，我厂工会组织50多</tspan><tspan x="350" dy="16.3">人参加了活动，并以优异的成绩，获得了比赛</tspan><tspan x="350" dy="16.3">的金奖和银奖。十一国庆节，我们组织了车间</tspan><tspan x="350" dy="16.3">主任、技术骨干、工会积极分子等一行共28</tspan><tspan x="350" dy="16.3">人，赴太姥山旅游。最近，我厂免费参加电脑</tspan><tspan x="350" dy="16.3">培训的四名学员，都顺利通过了技能考核。通</tspan><tspan x="350" dy="16.3">过这些活动的开展，大大增强了工会组织的凝</tspan><tspan x="350" dy="16.3">聚力，为各项工作的开展奠定了扎实的基础，</tspan><tspan x="350" dy="16.3">使会员感到工会真正成为职工之友，感到工会</tspan><tspan x="350" dy="16.3">的温暖。</tspan></text><line class="u" x1="344" y1="2517" x2="612" y2="2517"/></g>

<g id="p6-l1"><text class="t" x="350" y="3124.8"><tspan x="350">一、认真引领职工积极参与，充分发挥主人翁</tspan><tspan x="350" dy="16.3">作用</tspan></text><line class="u" x1="345" y1="3150.6" x2="611" y2="3150.6"/></g>
<g id="p6-l2"><text class="t" x="350" y="3787.5"><tspan x="350">二、以劳动竞赛为主线，全面推动各项工作向</tspan><tspan x="350" dy="16.3">前发展</tspan></text><line class="u" x1="345" y1="3813.3" x2="611" y2="3813.3"/></g>
<g id="p6-intro"><text class="t" x="60" y="2702.6"><tspan x="60">在二○○九年二月二十四日召开的××公路 分局</tspan><tspan x="60" dy="16.3">第四届一次职代会上张海同志在工作报告中，</tspan><tspan x="60" dy="16.3">关于深化改革和__年工作任务的话题最多，他</tspan><tspan x="60" dy="16.3">说"__年我们是取得了一些成绩，而成绩只能</tspan><tspan x="60" dy="16.3">代表过去。明确今年的工作任务是使我们的广</tspan><tspan x="60" dy="16.3">大职工在工作中有目标，前进中有方向，才能</tspan><tspan x="60" dy="16.3">更好的完成今年的各项任务。"会上代表们还</tspan><tspan x="60" dy="16.3">结合了××分局的实际，分别就路政管理、公</tspan><tspan x="60" dy="16.3">路建设、公路养护、文明创建、党风廉政，及</tspan><tspan x="60" dy="16.3">县委、县政府布置的任务等进行了畅谈。职工</tspan><tspan x="60" dy="16.3">代表们明确工作任务后，纷纷表示，回去后一</tspan><tspan x="60" dy="16.3">定要将职代会的精神传达给每一个职工，适应</tspan><tspan x="60" dy="16.3">改革，扎实工作，决不辜负分局党支部和职代</tspan><tspan x="60" dy="16.3">会的希望。因此，工会工作也重点抓了以下几</tspan><tspan x="60" dy="16.3">项工作。</tspan></text><line class="u" x1="54" y1="2940.3" x2="321" y2="2940.3"/></g>
<g id="p6-c1"><text class="t" x="60" y="2986.6"><tspan x="60">1、结合公路工作总体目标和工会委员会的工</tspan><tspan x="60" dy="16.3">作计划，充分发挥了职代会的职能作用，切实</tspan><tspan x="60" dy="16.3">关心职工生活，维护职工合法权益，为改革的</tspan><tspan x="60" dy="16.3">顺利实施作出不懈努力。</tspan></text><line class="u" x1="54" y1="3045" x2="321" y2="3045"/></g>
<g id="p6-c2"><text class="t" x="60" y="3092.2"><tspan x="60">2、为接受职工监督，搞好局务事务的公开，</tspan><tspan x="60" dy="16.3">利用多种方式公开公布职工关心和有知情权的</tspan><tspan x="60" dy="16.3">一系列热点工作，实行阳光操作，让群众心知</tspan><tspan x="60" dy="16.3">肚明，深得职工拥护。</tspan></text><line class="u" x1="54" y1="3150.6" x2="321" y2="3150.6"/></g>
<g id="p6-c3"><text class="t" x="60" y="3197.4"><tspan x="60">3、结合当前工作特点，分局工会积极协助有</tspan><tspan x="60" dy="16.3">关科室认真抓好职工的政治思想工作，分别举</tspan><tspan x="60" dy="16.3">办了两费人员转岗培训，"兼职路政员培训班"</tspan><tspan x="60" dy="16.3">和有利于广大职工身心健康的文体等活动，大</tspan><tspan x="60" dy="16.3">力支持一线职工坚持自学养路技术，机械驾驶</tspan><tspan x="60" dy="16.3">维修技术。</tspan></text><line class="u" x1="54" y1="3288.4" x2="321" y2="3288.4"/></g>
<g id="p6-c4"><text class="t" x="60" y="3333.7"><tspan x="60">4、认真完成分局和上级工会所布置的各项工</tspan><tspan x="60" dy="16.3">作任务。</tspan></text><line class="u" x1="54" y1="3359.5" x2="321" y2="3359.5"/></g>
<g id="p6-d1"><text class="t" x="60" y="3407.7"><tspan x="60">根据年初分局制定的工作目标，认真结合公路</tspan><tspan x="60" dy="16.3">工作的实际，由工会牵头，各科室大力配合，</tspan><tspan x="60" dy="16.3">配合文明创建工作在全局范围内开展了社会主</tspan><tspan x="60" dy="16.3">义劳动竞赛活动，并在各道班设立了"劳动竞</tspan><tspan x="60" dy="16.3">赛擂台"，根据不同的工作岗位开展了"我的工</tspan><tspan x="60" dy="16.3">作为养护，我的工作为工程"等为内容的劳动</tspan><tspan x="60" dy="16.3">竞赛。</tspan></text><line class="u" x1="54" y1="3515" x2="321" y2="3515"/></g>
<g id="p6-d2"><text class="t" x="60" y="3561.9"><tspan x="60">各道班采取多种形式，加强了路面和路肩的养</tspan><tspan x="60" dy="16.3">护，针对公路养护的特点，一改过去传统的养</tspan><tspan x="60" dy="16.3">护模式，认真将油路养护新技术加以推广和应</tspan><tspan x="60" dy="16.3">用，确保了省道公路的畅洁绿美。</tspan></text><line class="u" x1="54" y1="3620.3" x2="321" y2="3620.3"/></g>
<g id="p6-d3"><text class="t" x="60" y="3666.9"><tspan x="60">参加省道203线城南拓宽改建和省道305线六</tspan><tspan x="60" dy="16.3">中段改建工程及参加省道305线治超站路面加</tspan><tspan x="60" dy="16.3">宽施工的同志，发扬能打善战的精神，克服各</tspan><tspan x="60" dy="16.3">种困难，加班加点，战斗在施工第一线，以实</tspan><tspan x="60" dy="16.3">际行动投入到了"振兴××崛起"活动中。</tspan></text><line class="u" x1="54" y1="3741.6" x2="321" y2="3741.6"/></g>
<g id="p6-d4"><text class="t" x="60" y="3788"><tspan x="60">路政大队的同志为了路政管理上台阶，外树形</tspan><tspan x="60" dy="16.3">象，内强素质，虽然在一中队抽去搞治超，但</tspan><tspan x="60" dy="16.3">二中队在人手的情况下，仍坚持上路巡查，清</tspan><tspan x="60" dy="16.3">除路障，夜以继日的工作在路政管理第一线。</tspan></text><line class="u" x1="54" y1="3846.4" x2="321" y2="3846.4"/></g>
<g id="p6-d5"><text class="t" x="60" y="3893"><tspan x="60">办公室、人教科、安机科、工养科的同志们在</tspan><tspan x="60" dy="16.3">搞好本职工作的同时，局务管理大小工作不放</tspan><tspan x="60" dy="16.3">松，使分局的文明创建锦上添花。</tspan></text><line class="u" x1="54" y1="3935.1" x2="321" y2="3935.1"/></g>
<g id="p6-d6"><text class="t" x="60" y="3981"><tspan x="60">财务科为分局的各项费用开支当好家理好财，</tspan><tspan x="60" dy="16.3">当好好后勤。</tspan></text><line class="u" x1="54" y1="4006.8" x2="321" y2="4006.8"/></g>
<g id="p6-d7"><text class="t" x="60" y="4053.6"><tspan x="60">这一些事例，都说明了我们将文明创建和劳动</tspan><tspan x="60" dy="16.3">竞赛的有机结合，有效地推动了各项工作的开</tspan><tspan x="60" dy="16.3">展。在实际操作中，坚持做到按照制定的工作</tspan><tspan x="60" dy="16.3">计划开展工作，使工会工作做到了深入细致。</tspan></text><line class="u" x1="54" y1="4112" x2="321" y2="4112"/></g>
</g>
</svg>
